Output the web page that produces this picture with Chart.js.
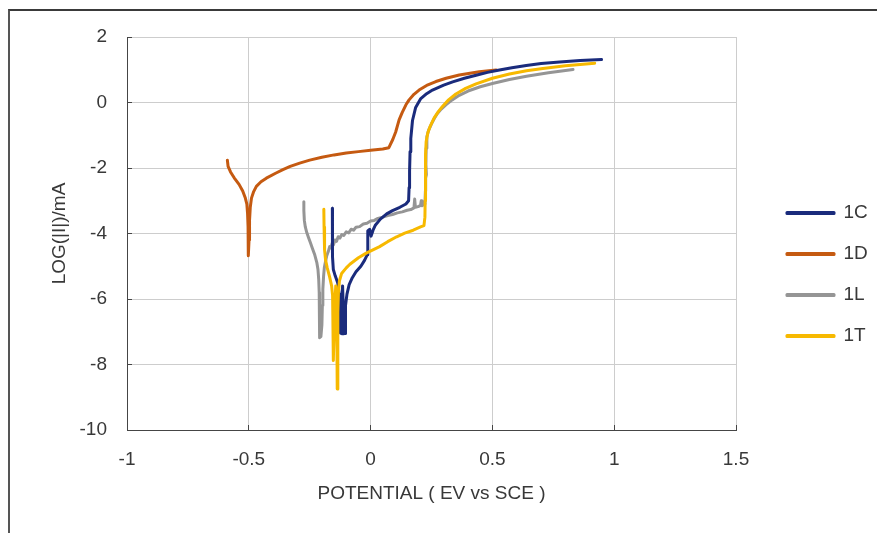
<!DOCTYPE html>
<html><head><meta charset="utf-8">
<script src="https://cdn.jsdelivr.net/npm/chart.js@4.4.1/dist/chart.umd.min.js"></script>
<style>
html,body{margin:0;padding:0;background:#fff;}
#wrap{position:relative;width:877px;height:533px;overflow:hidden;background:#fff;}
#frame{position:absolute;left:8px;top:9px;width:900px;height:600px;border-top:2px solid #3a3a3a;border-left:2px solid #555;}
canvas{position:absolute;left:0;top:0;}
</style></head><body>
<div id="wrap"><div id="frame"></div><canvas id="c" width="877" height="533"></canvas></div>
<script>
// ---- data ----
const seriesNames = ['1C', '1D', '1L', '1T'];
const seriesColors = ['#1a2b7c', '#C55A11', '#959595', '#F7B900'];
const xTickLabels = ['-1', '-0.5', '0', '0.5', '1', '1.5'];
const yTickLabels = ['-10', '-8', '-6', '-4', '-2', '0', '2'];

const potential1C = [-0.157,-0.157,-0.156,-0.153,-0.145,-0.135,-0.129,-0.127,-0.125,-0.124,-0.118,-0.118,-0.115,-0.112,-0.111,-0.104,-0.104,-0.102,-0.097,-0.088,-0.075,-0.06,-0.04,-0.025,-0.014,-0.012,-0.011,-0.004,0.002,0.01,0.02,0.04,0.066,0.09,0.12,0.145,0.156,0.158,0.16,0.162,0.165,0.172,0.185,0.206,0.23,0.254,0.3,0.337,0.385,0.433,0.48,0.529,0.58,0.639,0.7,0.776,0.86,0.948];
const logI1C      = [-3.23,-4.0,-4.7,-5.1,-5.3,-5.5,-5.85,-6.3,-6.8,-7.04,-7.06,-6.2,-5.6,-6.3,-7.06,-7.05,-6.6,-6.2,-5.85,-5.56,-5.35,-5.17,-5.0,-4.82,-4.65,-4.3,-3.92,-3.87,-4.08,-3.9,-3.74,-3.56,-3.4,-3.3,-3.2,-3.1,-3.0,-2.6,-2.1,-1.5,-1.1,-0.55,-0.15,0.12,0.27,0.38,0.53,0.63,0.74,0.83,0.92,0.99,1.06,1.13,1.19,1.24,1.28,1.31];

const potential1D = [-0.588,-0.585,-0.575,-0.56,-0.54,-0.525,-0.515,-0.508,-0.505,-0.503,-0.502,-0.502,-0.499,-0.497,-0.494,-0.489,-0.48,-0.469,-0.45,-0.428,-0.39,-0.36,-0.33,-0.291,-0.25,-0.2,-0.15,-0.1,-0.05,0,0.05,0.075,0.091,0.103,0.117,0.13,0.145,0.158,0.178,0.199,0.23,0.268,0.31,0.364,0.446,0.515];
const logI1D      = [-1.76,-1.95,-2.12,-2.3,-2.5,-2.7,-2.9,-3.1,-3.4,-3.8,-4.2,-4.68,-4.2,-3.6,-3.2,-2.92,-2.72,-2.56,-2.42,-2.31,-2.16,-2.05,-1.95,-1.85,-1.76,-1.67,-1.6,-1.54,-1.5,-1.46,-1.42,-1.38,-1.13,-0.9,-0.53,-0.3,-0.07,0.08,0.25,0.38,0.52,0.64,0.74,0.84,0.94,0.99];

const potential1L = [-0.274,-0.274,-0.272,-0.268,-0.262,-0.255,-0.247,-0.238,-0.229,-0.221,-0.216,-0.213,-0.211,-0.21,-0.209,-0.209,-0.204,-0.2,-0.198,-0.196,-0.193,-0.19,-0.185,-0.18,-0.174,-0.168,-0.163,-0.158,-0.152,-0.146,-0.14,-0.133,-0.126,-0.118,-0.11,-0.1,-0.09,-0.08,-0.07,-0.06,-0.045,-0.03,-0.015,0,0.015,0.03,0.05,0.07,0.09,0.11,0.13,0.15,0.165,0.178,0.181,0.184,0.195,0.205,0.208,0.211,0.218,0.223,0.225,0.226,0.229,0.227,0.228,0.231,0.238,0.25,0.262,0.275,0.29,0.309,0.335,0.364,0.4,0.45,0.5,0.57,0.64,0.73,0.831];
const logI1L      = [-3.03,-3.3,-3.6,-3.8,-3.97,-4.12,-4.28,-4.47,-4.66,-4.88,-5.1,-5.4,-5.8,-6.3,-6.8,-7.18,-7.15,-6.8,-6.2,-5.7,-5.3,-5.05,-4.85,-4.68,-4.56,-4.4,-4.44,-4.3,-4.34,-4.2,-4.24,-4.1,-4.14,-4.03,-4.06,-3.95,-3.98,-3.87,-3.9,-3.81,-3.79,-3.71,-3.69,-3.62,-3.6,-3.54,-3.5,-3.45,-3.42,-3.37,-3.34,-3.29,-3.27,-3.22,-2.95,-3.2,-3.18,-3.14,-3.0,-3.15,-3.12,-3.1,-2.7,-2.3,-2.2,-1.9,-1.4,-1.05,-0.85,-0.65,-0.48,-0.33,-0.2,-0.07,0.08,0.22,0.35,0.48,0.58,0.7,0.8,0.91,1.01];

const potential1T = [-0.192,-0.191,-0.189,-0.185,-0.178,-0.168,-0.16,-0.156,-0.155,-0.154,-0.153,-0.15,-0.147,-0.143,-0.14,-0.138,-0.137,-0.135,-0.134,-0.132,-0.128,-0.119,-0.1,-0.085,-0.05,-0.018,0.037,0.07,0.107,0.14,0.175,0.205,0.219,0.223,0.224,0.225,0.226,0.228,0.235,0.245,0.261,0.278,0.295,0.32,0.35,0.39,0.433,0.5,0.57,0.64,0.707,0.8,0.92];
const logI1T      = [-3.26,-3.8,-4.5,-4.8,-5.05,-5.33,-5.6,-5.9,-6.5,-7.2,-7.88,-7.0,-6.2,-5.6,-6.4,-7.6,-8.75,-7.5,-6.4,-5.8,-5.45,-5.22,-5.05,-4.94,-4.74,-4.6,-4.4,-4.25,-4.1,-3.99,-3.9,-3.8,-3.76,-3.5,-3.0,-2.3,-1.6,-1.2,-0.92,-0.72,-0.47,-0.28,-0.12,0.08,0.26,0.43,0.57,0.74,0.87,0.97,1.04,1.12,1.2];

// ---- build ----
const FONT = "'Liberation Sans', Arial, sans-serif";
const TEXT = '#383838';
const AXIS = '#454545';
const GRID = '#cdcdcd';
const LEGEND_X0 = 787;   // left of first legend line
const LEGEND_Y0 = 213;   // centre of first legend row

function pts(xs, ys) { return xs.map((x, i) => ({x: x, y: ys[i]})); }
const xs = [potential1C, potential1D, potential1L, potential1T];
const ys = [logI1C, logI1D, logI1L, logI1T];
const drawOrder = [1, 3, 2, 0];

const datasets = seriesNames.map((n, i) => ({
  label: n,
  data: pts(xs[i], ys[i]),
  showLine: true,
  borderColor: seriesColors[i],
  backgroundColor: seriesColors[i],
  borderWidth: 3,
  pointRadius: 0,
  pointHoverRadius: 0,
  tension: 0,
  borderJoinStyle: 'round',
  borderCapStyle: 'round',
  order: drawOrder[i]
}));

const legendShift = {
  id: 'legendShift',
  afterLayout(chart) {
    const lg = chart.legend;
    if (!lg) return;
    const pad = lg.options.labels.padding;
    const fs = lg.options.labels.font.size;
    const colH = (lg.columnSizes && lg.columnSizes[0]) ? lg.columnSizes[0].height : 4 * (fs + pad);
    const startY = ((lg.top + pad) + (lg.bottom - colH)) / 2;
    const dy = LEGEND_Y0 - (startY + fs / 2);
    const dx = LEGEND_X0 - (lg.left + pad);
    lg.left += dx; lg.top += dy; lg.bottom += dy;
    lg.right = chart.width;
    lg.width = lg.right - lg.left;
    lg.height = lg.bottom - lg.top;
  }
};

new Chart(document.getElementById('c'), {
  type: 'scatter',
  data: { datasets: datasets },
  plugins: [legendShift],
  options: {
    responsive: false,
    animation: false,
    events: [],
    layout: { padding: { top: 37, left: 0, right: 51, bottom: 0 } },
    plugins: {
      legend: {
        position: 'right',
        maxWidth: 90,
        labels: {
          boxWidth: 47, boxHeight: 1, padding: 22, color: TEXT,
          font: { family: FONT, size: 19 },
          sort: (a, b) => a.datasetIndex - b.datasetIndex
        }
      },
      tooltip: { enabled: false }
    },
    scales: {
      x: {
        type: 'linear', min: -1, max: 1.5,
        ticks: { stepSize: 0.5, padding: 23, color: TEXT, font: { family: FONT, size: 19 },
                 callback: (v, i) => xTickLabels[i] },
        grid: { color: c => (c.tick && c.tick.value === -1) ? AXIS : GRID, lineWidth: 1, tickLength: -5, tickColor: AXIS },
        border: { color: AXIS, width: 1 },
        title: { display: true, text: 'POTENTIAL ( EV vs SCE )', color: TEXT, font: { family: FONT, size: 19 }, padding: { top: 0, bottom: 27.6 } },
        afterFit: s => { s.height = 103; }
      },
      y: {
        type: 'linear', min: -10, max: 2,
        ticks: { stepSize: 2, padding: 25, color: TEXT, font: { family: FONT, size: 19 },
                 callback: (v, i) => yTickLabels[i] },
        grid: { color: c => (c.tick && c.tick.value === -10) ? AXIS : GRID, lineWidth: 1, tickLength: -5, tickColor: AXIS },
        border: { color: AXIS, width: 1 },
        title: { display: true, text: 'LOG(|I|)/mA', color: TEXT, font: { family: FONT, size: 19 }, padding: { top: 48.6, bottom: 0 } },
        afterFit: s => { s.width = 127; }
      }
    }
  }
});
</script>
</body></html>
